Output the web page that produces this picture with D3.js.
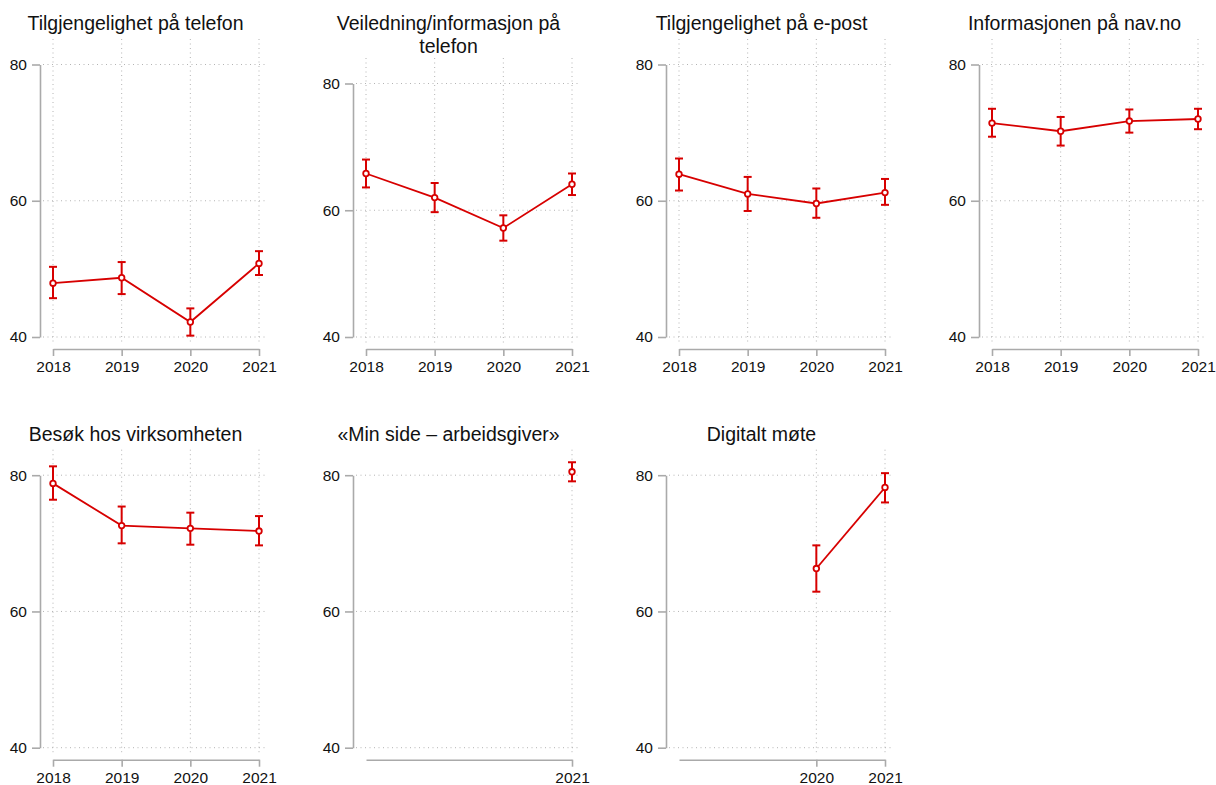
<!DOCTYPE html>
<html>
<head>
<meta charset="utf-8">
<script src="https://cdn.jsdelivr.net/npm/d3@7"></script>
<style>
  html, body { margin: 0; padding: 0; background: #fff; }
  svg { display: block; font-family: "Liberation Sans", Arial, Helvetica, sans-serif; }
</style>
</head>
<body>
<svg id="chart" width="1216" height="785"></svg>
<script>
// Survey years shown on every x axis
const years = [2018, 2019, 2020, 2021];

// Panel titles (line breaks are separate array entries)
const titles = [
  ["Tilgjengelighet på telefon"],
  ["Veiledning/informasjon på", "telefon"],
  ["Tilgjengelighet på e-post"],
  ["Informasjonen på nav.no"],
  ["Besøk hos virksomheten"],
  ["«Min side – arbeidsgiver»"],
  ["Digitalt møte"]
];

// Mean score per year (null = not asked that year)
const means = [
  [47.9, 48.7, 42.2, 50.8],
  [65.8, 62.0, 57.2, 64.1],
  [63.9, 61.0, 59.6, 61.2],
  [71.4, 70.2, 71.7, 72.0],
  [78.8, 72.6, 72.2, 71.8],
  [null, null, null, 80.5],
  [null, null, 66.3, 78.2]
];

// Lower and upper bounds of the confidence intervals
const lower = [
  [45.7, 46.3, 40.2, 49.1],
  [63.6, 59.7, 55.2, 62.4],
  [61.5, 58.5, 57.5, 59.4],
  [69.4, 68.1, 70.0, 70.5],
  [76.4, 70.0, 69.8, 69.7],
  [null, null, null, 79.1],
  [null, null, 62.9, 76.0]
];
const upper = [
  [50.3, 51.0, 44.2, 52.6],
  [68.0, 64.3, 59.2, 65.8],
  [66.2, 63.5, 61.8, 63.2],
  [73.5, 72.3, 73.4, 73.5],
  [81.3, 75.4, 74.5, 74.0],
  [null, null, null, 81.9],
  [null, null, 69.7, 80.3]
];

// Y axis tick labels
const yTicks = [40, 60, 80];

const red = "#d70000";
const axisColor = "#aaaaaa";
const gridColor = "#b4b4b4";
const titleSize = 19.5;
const titleLineGap = 22.5;

const svg = d3.select("#chart");

titles.forEach((title, i) => {
  const col = i % 4, row = Math.floor(i / 4);
  const x0 = 40 + 313 * col;          // y axis position
  const rowOff = row * 410.7;
  const titleBase = 30 + rowOff;
  const y40 = 337 + rowOff;
  const y80 = titleBase + (title.length - 1) * 19 + 34.5;

  const x = d3.scaleLinear().domain([2018, 2021]).range([x0 + 13, x0 + 219]);
  const y = d3.scaleLinear().domain([40, 80]).range([y40, y80]);

  const g = svg.append("g");

  // title, one text element per line
  g.append("g").selectAll("text").data(title).join("text")
    .attr("x", x0 + 95.5)
    .attr("y", (d, k) => titleBase + k * titleLineGap)
    .attr("text-anchor", "middle")
    .attr("font-size", titleSize)
    .attr("fill", "#111")
    .text(d => d);

  const present = years.filter((yr, j) => means[i][j] !== null);

  // horizontal gridlines
  g.append("g").selectAll("line").data(yTicks).join("line")
    .attr("x1", x0 + 3).attr("x2", x0 + 228)
    .attr("y1", d => y(d)).attr("y2", d => y(d))
    .attr("stroke", gridColor).attr("stroke-width", 1)
    .attr("stroke-dasharray", "1,3.5");

  // vertical gridlines at the years with data
  g.append("g").selectAll("line").data(present).join("line")
    .attr("x1", d => x(d)).attr("x2", d => x(d))
    .attr("y1", y80 - 25.5).attr("y2", y40 + 8)
    .attr("stroke", gridColor).attr("stroke-width", 1)
    .attr("stroke-dasharray", "1,3.5");

  // y axis
  const ya = g.append("g")
    .attr("transform", `translate(${x0},0)`)
    .call(d3.axisLeft(y).tickValues(yTicks).tickSize(8).tickSizeOuter(0).tickPadding(5));
  // x axis
  const xa = g.append("g")
    .attr("transform", `translate(0,${y40 + 12})`)
    .call(d3.axisBottom(x).tickValues(present).tickFormat(d3.format("d"))
      .tickSize(7).tickSizeOuter(0).tickPadding(5));

  [ya, xa].forEach(a => {
    a.select(".domain").attr("stroke", axisColor).attr("stroke-width", 1.6);
    a.selectAll(".tick line").attr("stroke", axisColor).attr("stroke-width", 1.6);
    a.selectAll(".tick text").attr("fill", "#111").attr("font-size", 15.5)
      .attr("font-family", "Liberation Sans, Arial, Helvetica, sans-serif");
  });

  // data rows for this panel
  const rows = years.map((yr, j) => ({ yr, m: means[i][j], lo: lower[i][j], hi: upper[i][j] }))
    .filter(d => d.m !== null);

  // connecting line
  g.append("path")
    .datum(rows)
    .attr("fill", "none")
    .attr("stroke", red)
    .attr("stroke-width", 1.8)
    .attr("d", d3.line().x(d => x(d.yr)).y(d => y(d.m)));

  // confidence interval bars with caps
  const eb = g.append("g").selectAll("g").data(rows).join("g")
    .attr("stroke", red).attr("stroke-width", 2);
  eb.append("line")
    .attr("x1", d => x(d.yr)).attr("x2", d => x(d.yr))
    .attr("y1", d => y(d.lo)).attr("y2", d => y(d.hi));
  eb.append("line")
    .attr("x1", d => x(d.yr) - 4).attr("x2", d => x(d.yr) + 4)
    .attr("y1", d => y(d.lo)).attr("y2", d => y(d.lo));
  eb.append("line")
    .attr("x1", d => x(d.yr) - 4).attr("x2", d => x(d.yr) + 4)
    .attr("y1", d => y(d.hi)).attr("y2", d => y(d.hi));

  // hollow point markers
  g.append("g").selectAll("circle").data(rows).join("circle")
    .attr("cx", d => x(d.yr)).attr("cy", d => y(d.m))
    .attr("r", 2.8)
    .attr("fill", "#fff")
    .attr("stroke", red)
    .attr("stroke-width", 1.8);
});
</script>
</body>
</html>
